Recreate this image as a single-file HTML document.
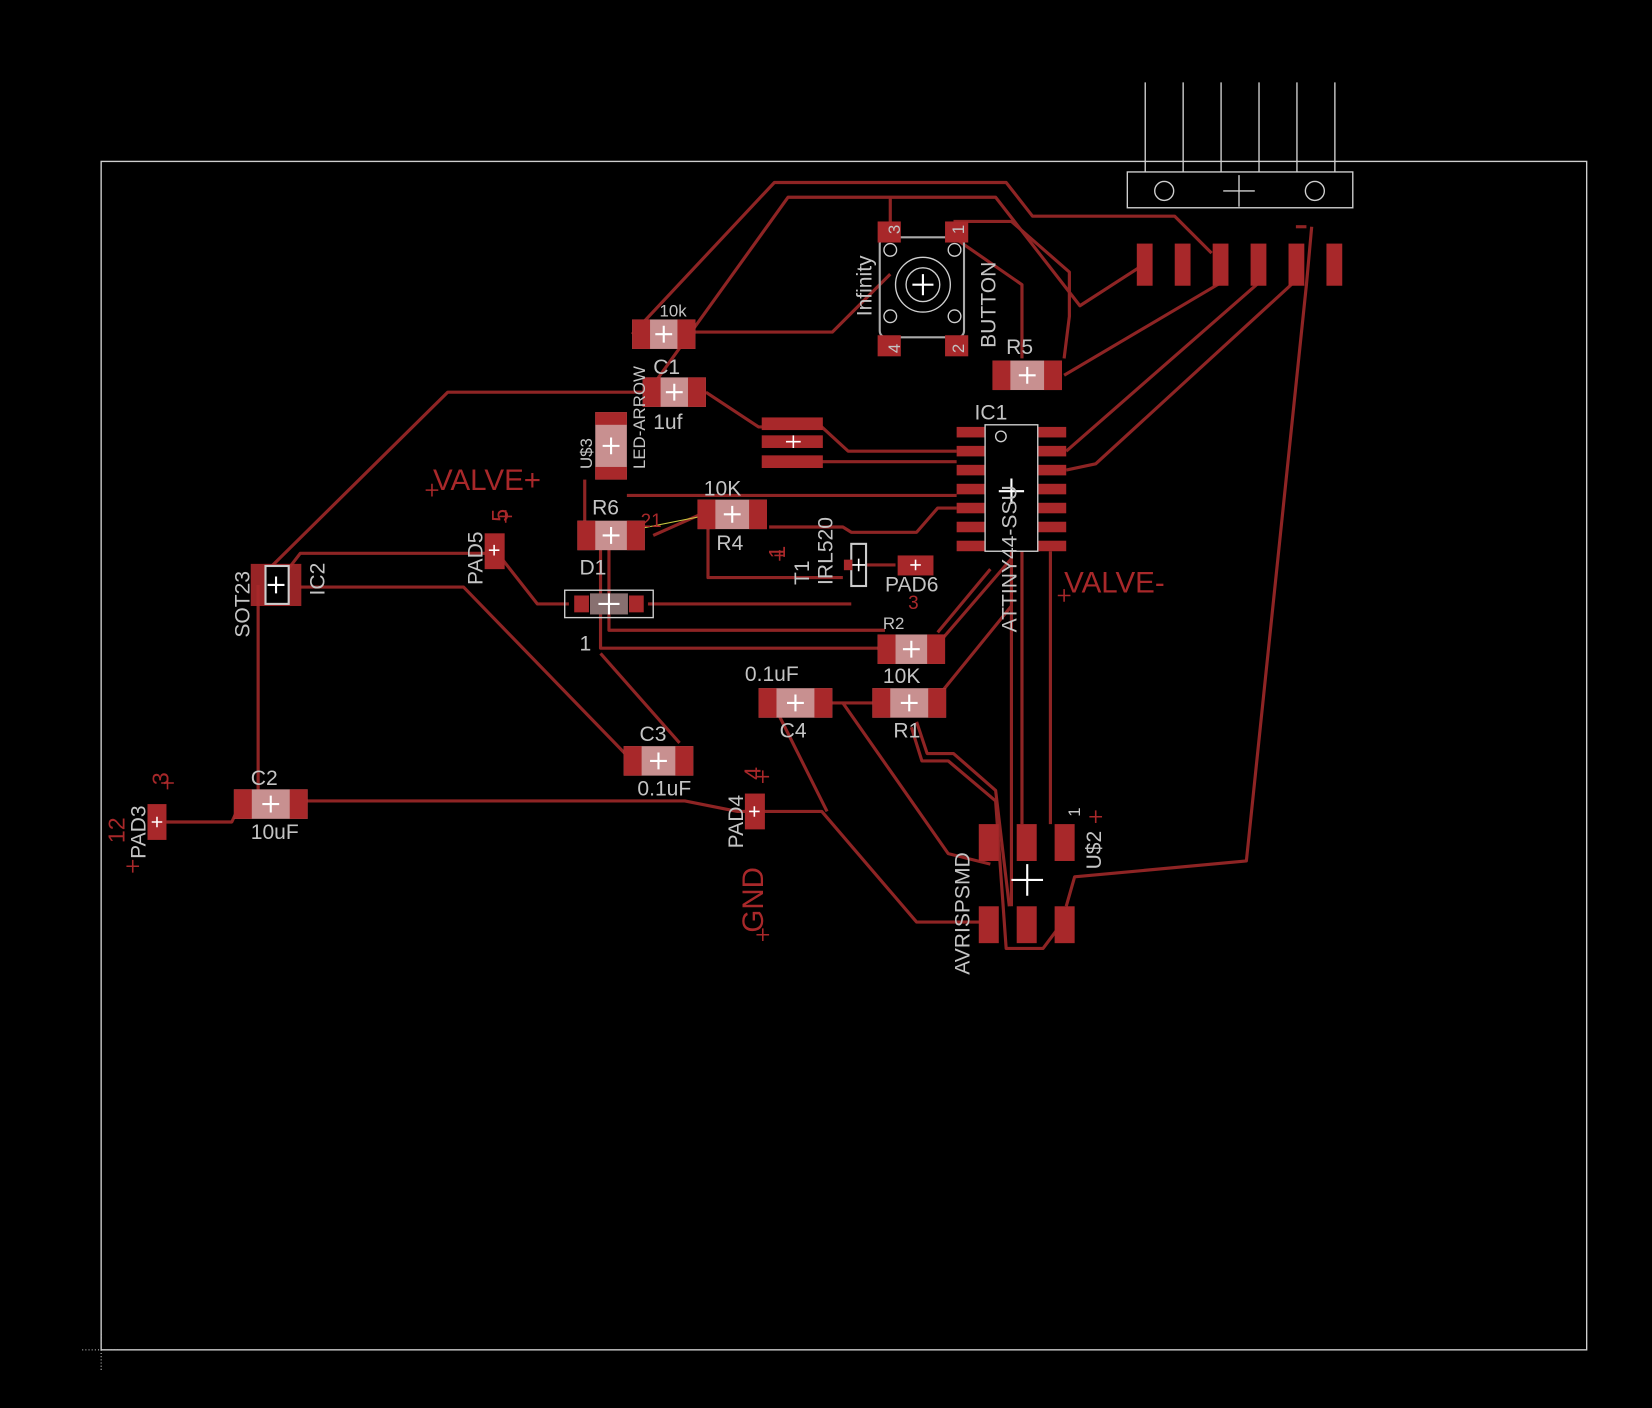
<!DOCTYPE html>
<html><head><meta charset="utf-8"><style>
html,body{margin:0;padding:0;background:#000;}
svg{display:block}
text{font-family:"Liberation Sans",sans-serif;fill:#c4c4c4}
.r{fill:#a8282a}
.t{fill:none;stroke:#8e2424;stroke-width:3;stroke-linejoin:round}
.w{fill:none;stroke:#cfcfcf;stroke-width:1.3}
.lbl{fill:#a8282a}
</style></head><body>
<svg width="1652" height="1408" viewBox="0 0 1568 1336" xmlns="http://www.w3.org/2000/svg">
<rect width="1568" height="1336" fill="#000"/>
<rect x="96" y="153" width="1410" height="1128" class="w"/>
<path d="M78 1281H114M96 1266V1300" stroke="#ccc" stroke-dasharray="1,2"/>
<!-- header -->
<g class="w">
<path d="M1087 78V163M1123 78V163M1159 78V163M1195 78V163M1231 78V163M1267 78V163"/>
<rect x="1070" y="163" width="214" height="34"/>
<circle cx="1105" cy="181" r="9"/><circle cx="1248" cy="181" r="9"/>
<path d="M1161 181H1191M1176 166V196"/>
</g>
<!-- traces -->
<g class="t">
<path d="M600 317L735 173H955L980 205H1115L1150 240"/>
<path d="M615 372L748 187H945L1025 290L1087 250"/>
<path d="M845 187V215"/>
<path d="M660 315H790L845 260"/>
<path d="M905 210H960L1015 258V300L1010 340"/>
<path d="M905 225L970 270V340"/>
<path d="M1010 356L1159 268"/>
<path d="M1012 428L1195 268"/>
<path d="M1012 446L1040 440L1231 265"/>
<path d="M1245 215L1240 270L1183 817L1020 832L1012 860"/>
<path d="M1240 215H1230"/>
<path d="M670 372L720 405H780L805 428H908"/>
<path d="M752 438H908"/>
<path d="M615 372H425L255 540"/>
<path d="M262 555L285 525H465"/>
<path d="M285 557H440L600 722"/>
<path d="M245 555V763"/>
<path d="M158 780H220L228 763"/>
<path d="M290 760H650L700 770H780L870 875H930"/>
<path d="M470 522L510 573H540"/>
<path d="M615 573H808"/>
<path d="M555 455V500"/>
<path d="M595 470H908"/>
<path d="M620 508L665 488"/>
<path d="M730 500H800L808 505H870L890 482H908"/>
<path d="M672 500V548H800"/>
<path d="M822 536H850"/>
<path d="M578 520V598H840"/>
<path d="M570 520V615H840"/>
<path d="M570 620L645 705"/>
<path d="M890 600L940 540"/>
<path d="M885 617L960 530"/>
<path d="M895 655L960 575"/>
<path d="M960 523V860"/>
<path d="M970 523V782"/>
<path d="M997 523V782"/>
<path d="M790 667H830"/>
<path d="M800 667L900 810L940 820"/>
<path d="M740 680L785 770"/>
<path d="M870 685L880 715H905L945 750L958 860"/>
<path d="M865 690L875 722H900L945 760L955 900H990L1005 880"/>
</g>
<path d="M575 508L665 490" stroke="#c8c840" stroke-width="1"/>
<!-- header smd pads -->
<g class="r">
<rect x="1079" y="231" width="15" height="40"/><rect x="1115" y="231" width="15" height="40"/>
<rect x="1151" y="231" width="15" height="40"/><rect x="1187" y="231" width="15" height="40"/>
<rect x="1223" y="231" width="15" height="40"/><rect x="1259" y="231" width="15" height="40"/>
</g>
<!-- two-pad components -->
<g>
<g transform="translate(630,317)"><rect x="-30" y="-14" width="60" height="28" fill="#c89090"/><rect x="-30" y="-14" width="17" height="28" class="r"/><rect x="13" y="-14" width="17" height="28" class="r"/><path d="M-8 0H8M0 -8V8" stroke="#fff" stroke-width="2"/></g>
<g transform="translate(640,372)"><rect x="-30" y="-14" width="60" height="28" fill="#c89090"/><rect x="-30" y="-14" width="17" height="28" class="r"/><rect x="13" y="-14" width="17" height="28" class="r"/><path d="M-8 0H8M0 -8V8" stroke="#fff" stroke-width="2"/></g>
<g transform="translate(975,356)"><rect x="-33" y="-14" width="66" height="28" fill="#c89090"/><rect x="-33" y="-14" width="17" height="28" class="r"/><rect x="16" y="-14" width="17" height="28" class="r"/><path d="M-8 0H8M0 -8V8" stroke="#fff" stroke-width="2"/></g>
<g transform="translate(580,508)"><rect x="-32" y="-14" width="64" height="28" fill="#c89090"/><rect x="-32" y="-14" width="17" height="28" class="r"/><rect x="15" y="-14" width="17" height="28" class="r"/><path d="M-8 0H8M0 -8V8" stroke="#fff" stroke-width="2"/></g>
<g transform="translate(695,488)"><rect x="-33" y="-14" width="66" height="28" fill="#c89090"/><rect x="-33" y="-14" width="17" height="28" class="r"/><rect x="16" y="-14" width="17" height="28" class="r"/><path d="M-8 0H8M0 -8V8" stroke="#fff" stroke-width="2"/></g>
<g transform="translate(865,616)"><rect x="-32" y="-14" width="64" height="28" fill="#c89090"/><rect x="-32" y="-14" width="17" height="28" class="r"/><rect x="15" y="-14" width="17" height="28" class="r"/><path d="M-8 0H8M0 -8V8" stroke="#fff" stroke-width="2"/></g>
<g transform="translate(863,667)"><rect x="-35" y="-14" width="70" height="28" fill="#c89090"/><rect x="-35" y="-14" width="17" height="28" class="r"/><rect x="18" y="-14" width="17" height="28" class="r"/><path d="M-8 0H8M0 -8V8" stroke="#fff" stroke-width="2"/></g>
<g transform="translate(755,667)"><rect x="-35" y="-14" width="70" height="28" fill="#c89090"/><rect x="-35" y="-14" width="17" height="28" class="r"/><rect x="18" y="-14" width="17" height="28" class="r"/><path d="M-8 0H8M0 -8V8" stroke="#fff" stroke-width="2"/></g>
<g transform="translate(625,722)"><rect x="-33" y="-14" width="66" height="28" fill="#c89090"/><rect x="-33" y="-14" width="17" height="28" class="r"/><rect x="16" y="-14" width="17" height="28" class="r"/><path d="M-8 0H8M0 -8V8" stroke="#fff" stroke-width="2"/></g>
<g transform="translate(257,763)"><rect x="-35" y="-14" width="70" height="28" fill="#c89090"/><rect x="-35" y="-14" width="17" height="28" class="r"/><rect x="18" y="-14" width="17" height="28" class="r"/><path d="M-8 0H8M0 -8V8" stroke="#fff" stroke-width="2"/></g>
<g transform="translate(580,423)"><rect x="-15" y="-32" width="30" height="64" fill="#c89090"/><rect x="-15" y="-32" width="30" height="12" class="r"/><rect x="-15" y="20" width="30" height="12" class="r"/><path d="M-8 0H8M0 -8V8" stroke="#fff" stroke-width="2"/></g>
<!-- D1 -->
<g transform="translate(578,573)"><rect x="-42" y="-13" width="84" height="26" class="w"/><rect x="-33" y="-8" width="14" height="16" class="r"/><rect x="19" y="-8" width="14" height="16" class="r"/><rect x="-18" y="-10" width="36" height="20" fill="#887070"/><path d="M-10 0H10M0 -10V10" stroke="#fff" stroke-width="2"/></g>
</g>
<!-- small ic / transistor -->
<g transform="translate(262,555)"><rect x="-24" y="-20" width="48" height="40" class="r" opacity=".9"/><rect x="-10" y="-18" width="22" height="36" fill="#000" stroke="#ccc" stroke-width="2"/><path d="M-8 0H8M0 -8V8" stroke="#fff" stroke-width="2"/></g>
<g transform="translate(815,536)"><rect x="-7" y="-20" width="14" height="40" fill="#000" stroke="#ccc" stroke-width="2"/><rect x="-14" y="-5" width="8" height="10" class="r"/><path d="M-6 0H6M0 -6V6" stroke="#fff" stroke-width="1.5"/></g>
<!-- single pads -->
<g class="r">
<rect x="140" y="763" width="18" height="34"/>
<rect x="707" y="753" width="19" height="34"/>
<rect x="460" y="506" width="19" height="34"/>
<rect x="852" y="527" width="34" height="19"/>
<rect x="723" y="396" width="58" height="12"/><rect x="723" y="413" width="58" height="12"/><rect x="723" y="432" width="58" height="12"/>
</g>
<g stroke="#fff" stroke-width="1.5"><path d="M144 780H154M149 775V785M711 770H721M716 765V775M464 522H474M469 517V527M864 536H874M869 531V541M746 419H760M753 413V425"/></g>
<!-- IC1 -->
<g class="r">
<rect x="908" y="405" width="27" height="10"/><rect x="908" y="423" width="27" height="10"/><rect x="908" y="441" width="27" height="10"/><rect x="908" y="459" width="27" height="10"/><rect x="908" y="477" width="27" height="10"/><rect x="908" y="495" width="27" height="10"/><rect x="908" y="513" width="27" height="10"/>
<rect x="985" y="405" width="27" height="10"/><rect x="985" y="423" width="27" height="10"/><rect x="985" y="441" width="27" height="10"/><rect x="985" y="459" width="27" height="10"/><rect x="985" y="477" width="27" height="10"/><rect x="985" y="495" width="27" height="10"/><rect x="985" y="513" width="27" height="10"/>
</g>
<rect x="935" y="403" width="50" height="120" class="w" stroke-width="2"/>
<circle cx="950" cy="414" r="5" class="w"/>
<path d="M948 466H972M960 454V478" stroke="#fff" stroke-width="2"/>
<!-- button -->
<g>
<rect x="835" y="225" width="80" height="95" rx="6" fill="none" stroke="#aaa" stroke-width="2"/>
<rect x="833" y="210" width="22" height="20" class="r"/><rect x="897" y="210" width="22" height="20" class="r"/>
<rect x="833" y="318" width="22" height="20" class="r"/><rect x="897" y="318" width="22" height="20" class="r"/>
<circle cx="845" cy="237" r="6" class="w"/><circle cx="906" cy="237" r="6" class="w"/><circle cx="845" cy="300" r="6" class="w"/><circle cx="906" cy="300" r="6" class="w"/>
<circle cx="876" cy="270" r="26" class="w" stroke-width="2"/><circle cx="876" cy="270" r="16" class="w"/>
<path d="M866 270H886M876 260V280" stroke="#fff" stroke-width="2"/>
</g>
<!-- AVRISP -->
<g class="r">
<rect x="929" y="782" width="19" height="35"/><rect x="965" y="782" width="19" height="35"/><rect x="1001" y="782" width="19" height="35"/>
<rect x="929" y="860" width="19" height="35"/><rect x="965" y="860" width="19" height="35"/><rect x="1001" y="860" width="19" height="35"/>
</g>
<path d="M960 835H990M975 820V850" stroke="#fff" stroke-width="2"/>
<!-- labels -->
<g font-size="20">
<text x="626" y="300" font-size="16">10k</text>
<text x="620" y="355">C1</text>
<text x="620" y="407">1uf</text>
<text x="955" y="336">R5</text>
<text x="925" y="398">IC1</text>
<text x="562" y="488">R6</text>
<text x="668" y="470">10K</text>
<text x="680" y="522">R4</text>
<text x="550" y="545">D1</text>
<text x="550" y="617">1</text>
<text x="838" y="597" font-size="16">R2</text>
<text x="838" y="648">10K</text>
<text x="848" y="700">R1</text>
<text x="707" y="646">0.1uF</text>
<text x="740" y="700">C4</text>
<text x="607" y="703">C3</text>
<text x="605" y="755">0.1uF</text>
<text x="238" y="745">C2</text>
<text x="238" y="796">10uF</text>
<text x="840" y="561">PAD6</text>
<text transform="translate(827,300) rotate(-90)">Infinity</text>
<text transform="translate(945,330) rotate(-90)">BUTTON</text>
<text transform="translate(854,222) rotate(-90)" font-size="16">3</text>
<text transform="translate(915,222) rotate(-90)" font-size="16">1</text>
<text transform="translate(854,335) rotate(-90)" font-size="16">4</text>
<text transform="translate(915,335) rotate(-90)" font-size="16">2</text>
<text transform="translate(612,445) rotate(-90)" font-size="16">LED-ARROW</text>
<text transform="translate(562,445) rotate(-90)" font-size="16">U$3</text>
<text transform="translate(965,600) rotate(-90)">ATTINY44-SSU</text>
<text transform="translate(790,555) rotate(-90)">IRL520</text>
<text transform="translate(768,555) rotate(-90)">T1</text>
<text transform="translate(237,605) rotate(-90)">SOT23</text>
<text transform="translate(308,565) rotate(-90)">IC2</text>
<text transform="translate(458,555) rotate(-90)">PAD5</text>
<text transform="translate(705,805) rotate(-90)">PAD4</text>
<text transform="translate(138,815) rotate(-90)">PAD3</text>
<text transform="translate(920,925) rotate(-90)">AVRISPSMD</text>
<text transform="translate(1045,825) rotate(-90)">U$2</text>
<text transform="translate(1025,775) rotate(-90)" font-size="16">1</text>
</g>
<g font-size="28" class="lbl">
<text x="411" y="465" class="lbl">VALVE+</text>
<text x="1010" y="562" class="lbl">VALVE-</text>
<text transform="translate(724,885) rotate(-90)" class="lbl">GND</text>
<text transform="translate(482,495) rotate(-90)" class="lbl" font-size="22">5</text>
<text transform="translate(160,745) rotate(-90)" class="lbl" font-size="22">3</text>
<text transform="translate(118,800) rotate(-90)" class="lbl" font-size="22">12</text>
<text transform="translate(722,740) rotate(-90)" class="lbl" font-size="22">4</text>
<text transform="translate(745,530) rotate(-90)" class="lbl" font-size="22">1</text>
<text x="608" y="500" class="lbl" font-size="18">21</text>
<text x="862" y="578" class="lbl" font-size="18">3</text>
</g>
<g stroke="#a8282a" stroke-width="1.5"><path d="M404 465H416M410 459V471M474 490H486M480 484V496M1004 565H1016M1010 559V571M718 887H730M724 881V893M153 743H165M159 737V749M120 822H132M126 816V828M718 737H730M724 731V743M1034 775H1046M1040 769V781M735 527H745M740 522V532"/></g>
</svg>
</body></html>
